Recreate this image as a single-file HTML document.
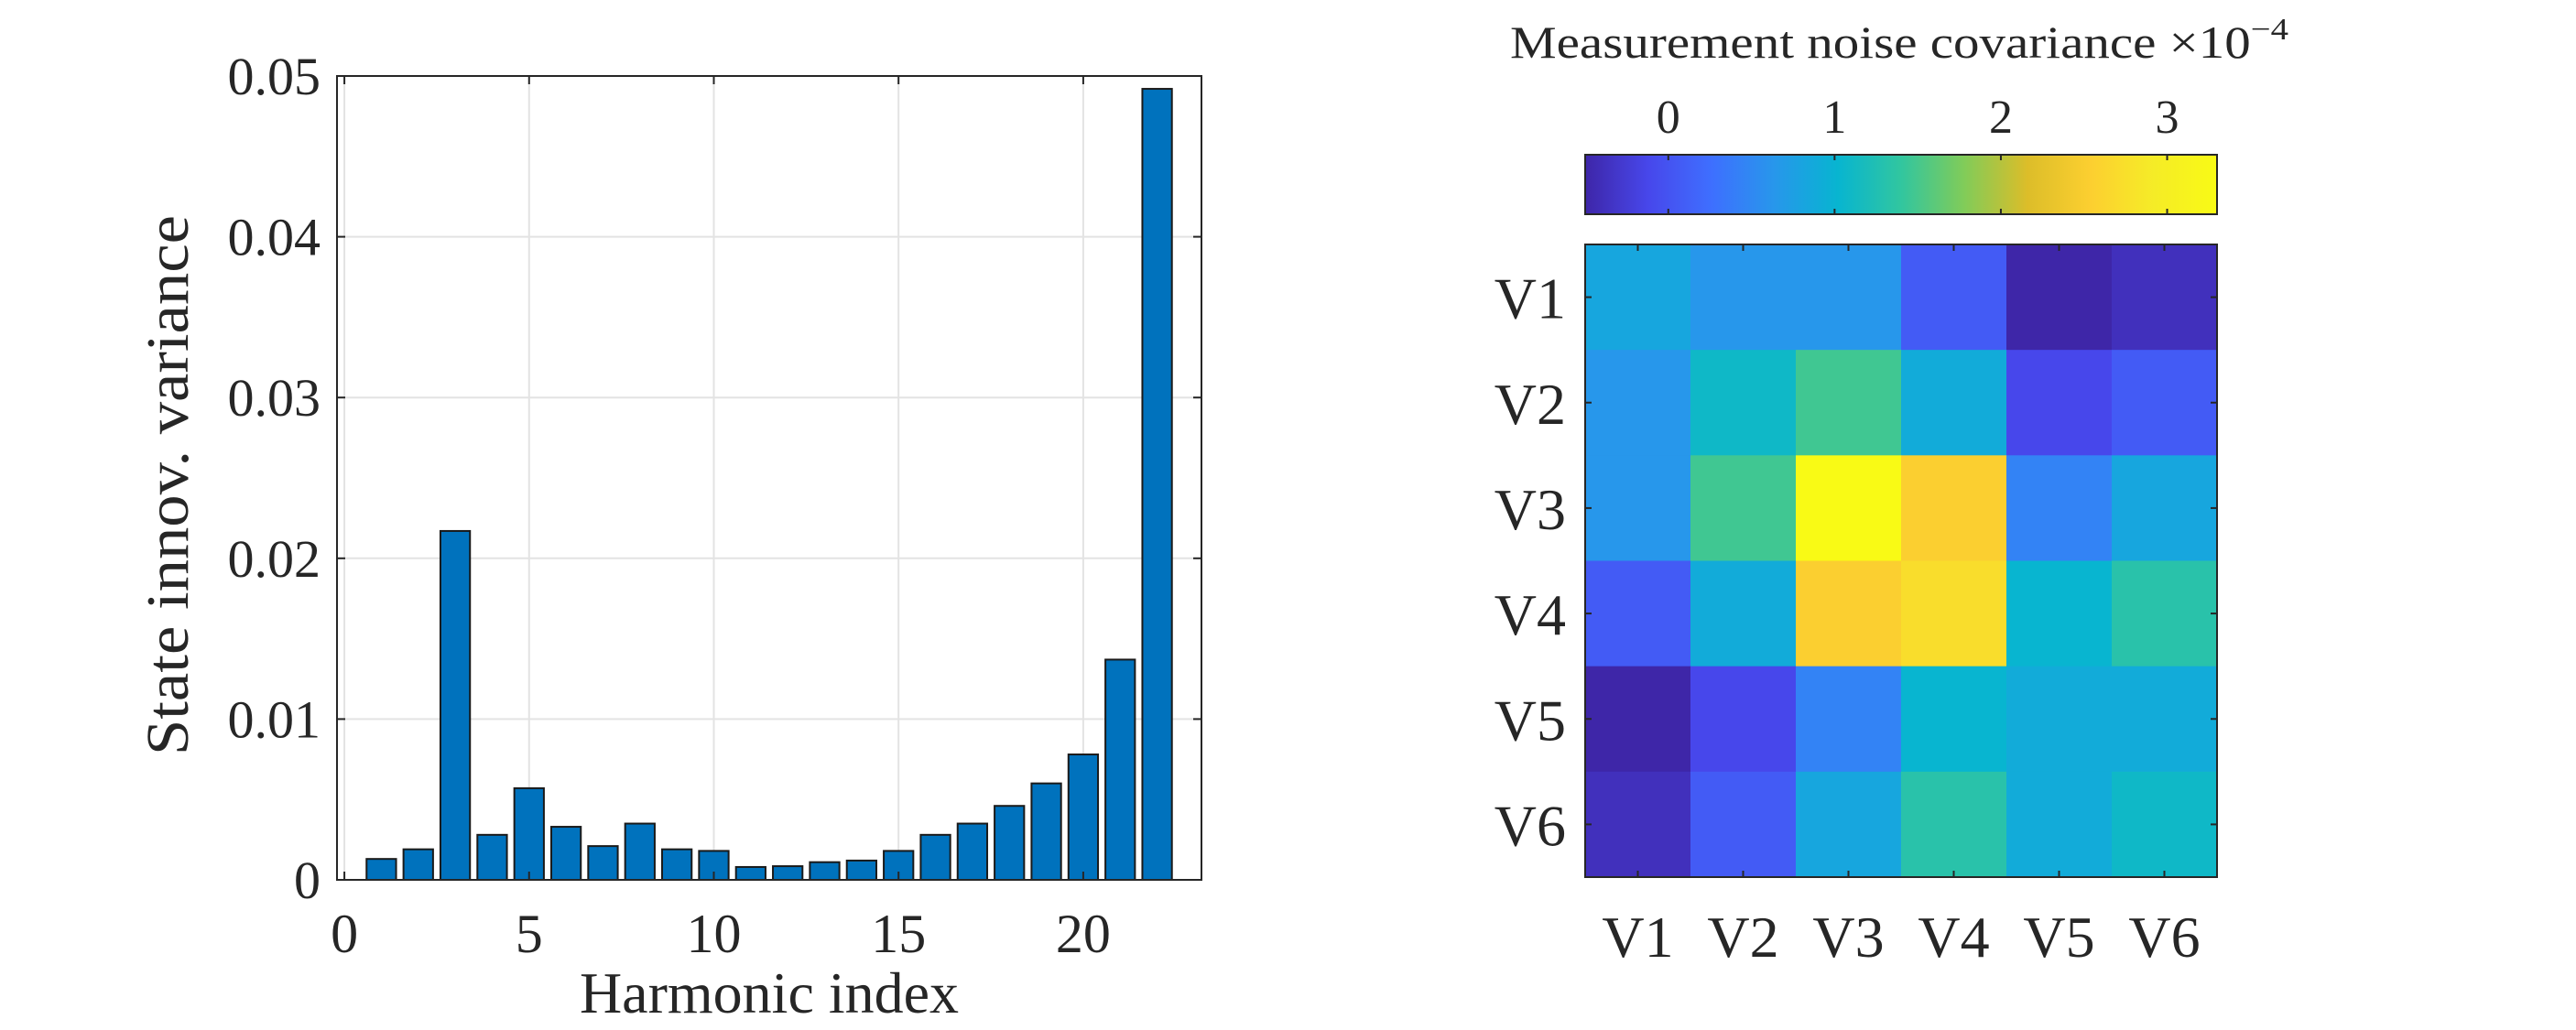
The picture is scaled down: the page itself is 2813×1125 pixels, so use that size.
<!DOCTYPE html>
<html><head><meta charset="utf-8"><style>
html,body{margin:0;padding:0;background:#fff;}
svg{display:block;font-family:"Liberation Serif",serif;}
</style></head><body>
<svg id="fig" width="2813" height="1125" viewBox="0 0 2813 1125" xmlns="http://www.w3.org/2000/svg">
<rect width="2813" height="1125" fill="#fff"/>
<g id="left"></g>
<g id="right"></g>
</svg>
<script>
const harmonics = [1,2,3,4,5,6,7,8,9,10,11,12,13,14,15,16,17,18,19,20,21,22];
const variances = [0.0013,0.0019,0.0217,0.0028,0.0057,0.0033,0.0021,0.0035,0.0019,0.0018,0.0008,0.00085,0.0011,0.0012,0.0018,0.0028,0.0035,0.0046,0.006,0.0078,0.0137,0.0492];
const xTicks = [0,5,10,15,20];
const yTicks = [0,0.01,0.02,0.03,0.04,0.05];
const yTickLabels = ["0","0.01","0.02","0.03","0.04","0.05"];
const varNames = ["V1","V2","V3","V4","V5","V6"];
const covRows = [
 [0.83,0.64,0.64,0.07,-0.5,-0.39],
 [0.64,1.09,1.47,0.9,-0.12,0.07],
 [0.64,1.47,3.29,2.53,0.45,0.83],
 [0.07,0.9,2.53,2.72,1.02,1.32],
 [-0.5,-0.12,0.45,1.02,0.9,0.9],
 [-0.39,0.07,0.83,1.32,0.9,1.09]
];
const cbTicks = [0,1,2,3];
const cbRange = [-0.5,3.3];

const NS="http://www.w3.org/2000/svg";
function mk(parent,tag,attrs,text){const e=document.createElementNS(NS,tag);for(const k in attrs)e.setAttribute(k,attrs[k]);if(text!==undefined)e.textContent=text;parent.appendChild(e);return e;}

// Left chart
const L=document.getElementById('left');
const ax={l:368,r:1312,t:83,b:961};
const xMin=-0.2,xMax=23.2,yMin=0,yMax=0.05;
const xs=v=>ax.l+(v-xMin)/(xMax-xMin)*(ax.r-ax.l);
const ys=v=>ax.b-(v-yMin)/(yMax-yMin)*(ax.b-ax.t);
xTicks.forEach(t=>{const g=mk(L,'line',{x1:xs(t),x2:xs(t),y1:ax.t,y2:ax.b,stroke:'#e3e3e3','stroke-width':2});
});
yTicks.forEach(t=>{const g=mk(L,'line',{x1:ax.l,x2:ax.r,y1:ys(t),y2:ys(t),stroke:'#e3e3e3','stroke-width':2});
});
harmonics.forEach((h,i)=>{const w=0.8;const r=mk(L,'rect',{x:xs(h-w/2),y:ys(variances[i]),width:xs(h+w/2)-xs(h-w/2),height:ys(0)-ys(variances[i]),fill:'#0072bd',stroke:'#1a1a1a','stroke-width':2});
});
const box=mk(L,'rect',{x:ax.l,y:ax.t,width:ax.r-ax.l,height:ax.b-ax.t,fill:'none',stroke:'#262626','stroke-width':2});

xTicks.forEach(t=>{mk(L,'line',{x1:xs(t),x2:xs(t),y1:ax.b,y2:ax.b-9,stroke:'#262626','stroke-width':2});mk(L,'line',{x1:xs(t),x2:xs(t),y1:ax.t,y2:ax.t+9,stroke:'#262626','stroke-width':2});
const tx=mk(L,'text',{x:xs(t),y:1040,'text-anchor':'middle','font-size':60,fill:'#262626'},String(t));
});
yTicks.forEach((t,i)=>{mk(L,'line',{x1:ax.l,x2:ax.l+9,y1:ys(t),y2:ys(t),stroke:'#262626','stroke-width':2});mk(L,'line',{x1:ax.r,x2:ax.r-9,y1:ys(t),y2:ys(t),stroke:'#262626','stroke-width':2});
const tx=mk(L,'text',{x:350,y:ys(t)+20,'text-anchor':'end','font-size':58,fill:'#262626'},yTickLabels[i]);
});
const xl=mk(L,'text',{x:(ax.l+ax.r)/2,y:1106,'text-anchor':'middle','font-size':64,fill:'#262626'},'Harmonic index');

const yl=mk(L,'text',{x:0,y:0,'text-anchor':'middle','font-size':66,fill:'#262626',textLength:590,lengthAdjust:'spacingAndGlyphs',transform:'translate(205,530) rotate(-90)'},'State innov. variance');


// parula
const parula=[[0.2422,0.1504,0.6603],[0.2803,0.2782,0.9221],[0.2440,0.4358,0.9988],[0.1540,0.5902,0.9218],[0.0297,0.7082,0.8163],[0.1938,0.7758,0.6251],[0.5044,0.7993,0.3480],[0.8634,0.7406,0.1596],[0.9892,0.8136,0.1885],[0.9626,0.9237,0.1518],[0.9769,0.9839,0.0805]];
function cmap(f){f=Math.max(0,Math.min(1,f));const p=f*10;const i=Math.min(9,Math.floor(p));const u=p-i;const a=parula[i],b=parula[i+1];
return 'rgb('+[0,1,2].map(k=>Math.round((a[k]+(b[k]-a[k])*u)*255)).join(',')+')';}
const R=document.getElementById('right');
const hm={l:1731,r:2421,t:267,b:958};
const cb={l:1731,r:2421,t:169,b:234};
const cs=v=>cb.l+(v-cbRange[0])/(cbRange[1]-cbRange[0])*(cb.r-cb.l);
const defs=mk(R,'defs',{});
const lg=mk(defs,'linearGradient',{id:'pg',x1:0,x2:1,y1:0,y2:0});
for(let i=0;i<=40;i++){mk(lg,'stop',{offset:i/40,'stop-color':cmap(i/40)});}
const cbr=mk(R,'rect',{x:cb.l,y:cb.t,width:cb.r-cb.l,height:cb.b-cb.t,fill:'url(#pg)',stroke:'#262626','stroke-width':2});

cbTicks.forEach(t=>{mk(R,'line',{x1:cs(t),x2:cs(t),y1:cb.t,y2:cb.t+6,stroke:'#262626','stroke-width':2});mk(R,'line',{x1:cs(t),x2:cs(t),y1:cb.b,y2:cb.b-6,stroke:'#262626','stroke-width':2});
const tx=mk(R,'text',{x:cs(t),y:145,'text-anchor':'middle','font-size':52,fill:'#262626'},String(t));
});
const tt=mk(R,'text',{x:1649,y:63,'font-size':50,fill:'#262626',textLength:850,lengthAdjust:'spacingAndGlyphs'});

tt.innerHTML='Measurement noise covariance \u00d710<tspan dy="-20" font-size="34">\u22124</tspan>';
const n=varNames.length;const cw=(hm.r-hm.l)/n,ch=(hm.b-hm.t)/n;
covRows.forEach((row,i)=>row.forEach((v,j)=>{const c=mk(R,'rect',{x:hm.l+j*cw,y:hm.t+i*ch,width:cw+0.5,height:ch+0.5,fill:cmap((v-cbRange[0])/(cbRange[1]-cbRange[0]))});
}));
const hb=mk(R,'rect',{x:hm.l,y:hm.t,width:hm.r-hm.l,height:hm.b-hm.t,fill:'none',stroke:'#262626','stroke-width':2});

varNames.forEach((nm,k)=>{const cx=hm.l+(k+0.5)*cw,cy=hm.t+(k+0.5)*ch;
mk(R,'line',{x1:cx,x2:cx,y1:hm.b,y2:hm.b-7,stroke:'#262626','stroke-width':2});mk(R,'line',{x1:cx,x2:cx,y1:hm.t,y2:hm.t+7,stroke:'#262626','stroke-width':2});
mk(R,'line',{x1:hm.l,x2:hm.l+7,y1:cy,y2:cy,stroke:'#262626','stroke-width':2});mk(R,'line',{x1:hm.r,x2:hm.r-7,y1:cy,y2:cy,stroke:'#262626','stroke-width':2});
const a=mk(R,'text',{x:cx,y:1045,'text-anchor':'middle','font-size':64,fill:'#262626'},nm);

const b=mk(R,'text',{x:1710,y:cy+23,'text-anchor':'end','font-size':64,fill:'#262626'},nm);
});
</script>
</body></html>
